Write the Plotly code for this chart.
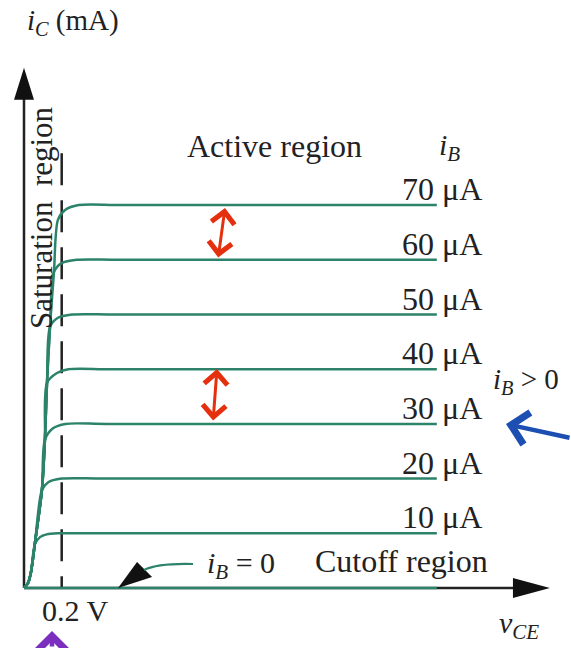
import plotly.graph_objects as go

# ---------------- data ----------------
ib_labels = ["0", "10 μA", "20 μA", "30 μA", "40 μA", "50 μA", "60 μA", "70 μA"]
ic_levels = [0, 1, 2, 3, 4, 5, 6, 7]          # mA, flat level of each curve

vce_0 = [0.0, 2.19]
ic_0 = [0.0, 0.0]
vce_10 = [0, 0.021, 0.037, 0.058, 0.085, 0.12, 0.18, 0.40, 2.19]
ic_10 = [0, 0.09, 0.29, 0.80, 0.93, 0.98, 1.0, 1.0, 1.0]
vce_20 = [0, 0.021, 0.037, 0.058, 0.095, 0.127, 0.20, 0.42, 2.19]
ic_20 = [0, 0.09, 0.29, 0.82, 1.79, 1.93, 2.0, 2.0, 2.0]
vce_30 = [0, 0.021, 0.037, 0.058, 0.095, 0.111, 0.154, 0.22, 0.44, 2.19]
ic_30 = [0, 0.09, 0.29, 0.82, 1.79, 2.71, 2.92, 3.0, 3.0, 3.0]
vce_40 = [0, 0.021, 0.037, 0.058, 0.095, 0.111, 0.122, 0.175, 0.235, 0.46, 2.19]
ic_40 = [0, 0.09, 0.29, 0.82, 1.79, 2.71, 3.75, 3.93, 4.0, 4.0, 4.0]
vce_50 = [0, 0.021, 0.037, 0.058, 0.095, 0.111, 0.122, 0.138, 0.18, 0.255, 0.48, 2.19]
ic_50 = [0, 0.09, 0.29, 0.82, 1.79, 2.71, 3.75, 4.77, 4.94, 5.0, 5.0, 5.0]
vce_60 = [0, 0.021, 0.037, 0.058, 0.095, 0.111, 0.122, 0.138, 0.159, 0.20, 0.28, 0.50, 2.19]
ic_60 = [0, 0.09, 0.29, 0.82, 1.79, 2.71, 3.75, 4.77, 5.78, 5.94, 6.0, 6.0, 6.0]
vce_70 = [0, 0.021, 0.037, 0.058, 0.095, 0.111, 0.122, 0.138, 0.159, 0.18, 0.218, 0.29, 0.52, 2.19]
ic_70 = [0, 0.09, 0.29, 0.82, 1.79, 2.71, 3.75, 4.77, 5.78, 6.73, 6.91, 7.0, 7.0, 7.0]

vce_sat = 0.2          # V, dashed saturation boundary
vce_axis_end = 2.79
ic_axis_end = 9.51
ic_dash_top = 7.95
vce_ib0_arrow = 0.499

# ---------------- styling ----------------
W, H = 571, 648
GREEN = "#2c836a"
INK = "#222222"
FONT = "Liberation Serif"
FS = 32

curves = [(vce_0, ic_0), (vce_10, ic_10), (vce_20, ic_20), (vce_30, ic_30),
          (vce_40, ic_40), (vce_50, ic_50), (vce_60, ic_60), (vce_70, ic_70)]

fig = go.Figure()

# axes lines (drawn below curves)
fig.add_shape(type="line", x0=0, y0=0, x1=vce_axis_end - 0.15, y1=0,
              line=dict(color=INK, width=2.5), layer="below")
fig.add_shape(type="line", x0=0, y0=0, x1=0, y1=ic_axis_end - 0.5,
              line=dict(color=INK, width=2.5), layer="below")
fig.add_shape(type="line", x0=vce_sat, y0=ic_dash_top, x1=vce_sat, y1=0,
              line=dict(color=INK, width=2.5, dash="32px,15px"), layer="below")

for (v, i) in curves:
    fig.add_trace(go.Scatter(x=v, y=i, mode="lines",
                             line=dict(color=GREEN, width=2.5, shape="spline", smoothing=0.8),
                             hoverinfo="skip", showlegend=False))

# arrowheads on axes (pixel-sized paths anchored at the tips)
fig.add_shape(type="path", xref="x", yref="y", xsizemode="pixel", ysizemode="pixel",
              xanchor=vce_axis_end, yanchor=0, path="M0,0 L-37,10 L-37,-10 Z",
              fillcolor="#111", line=dict(width=0))
fig.add_shape(type="path", xref="x", yref="y", xsizemode="pixel", ysizemode="pixel",
              xanchor=0, yanchor=ic_axis_end, path="M0,0 L-10,-32 L10,-32 Z",
              fillcolor="#111", line=dict(width=0))
# i_B = 0 pointer
fig.add_shape(type="path", xref="x", yref="y", xsizemode="pixel", ysizemode="pixel",
              xanchor=vce_ib0_arrow, yanchor=0, path="M0,0 L19,26 L34,11 Z",
              fillcolor="#111", line=dict(width=0))
fig.add_shape(type="path", xref="x", yref="y", xsizemode="pixel", ysizemode="pixel",
              xanchor=vce_ib0_arrow, yanchor=0, path="M26,18 Q40,25 75,24",
              line=dict(color=GREEN, width=2.2))

def px(x):
    return x / W

def py(y):
    return 1 - y / H

ann = []
def text(t, x, y, xa="center", size=FS, angle=0):
    ann.append(dict(text=t, x=px(x), y=py(y), xref="paper", yref="paper",
                    xanchor=xa, yanchor="middle", showarrow=False, textangle=angle,
                    font=dict(family=FONT, size=size, color=INK)))

text("<i>i</i><sub><i>C</i></sub> (mA)", 25, 22, xa="left", size=29)
text("Active region", 185, 146, xa="left")
text("<i>i</i><sub><i>B</i></sub>", 437, 147, xa="left", size=30)
text("<i>i</i><sub><i>B</i></sub> > 0", 491, 381, xa="left", size=29)
text("Cutoff region", 313, 561, xa="left")
text("<i>i</i><sub><i>B</i></sub> = 0", 205, 565, xa="left", size=30)
text("0.2 V", 40, 610, xa="left", size=30)
text("<i>v</i><sub><i>CE</i></sub>", 497, 625, xa="left", size=30)
text("Saturation  region", 42, 218, angle=-90, size=31)

# current labels attached to the curve levels
for lab, lev in zip(ib_labels[1:], ic_levels[1:]):
    ann.append(dict(text=lab, x=2.44, y=lev, xref="x", yref="y", xanchor="right",
                    yanchor="middle", yshift=16, showarrow=False,
                    font=dict(family=FONT, size=FS, color=INK)))

# hand-drawn marks
def hand_arrow(x, y, ax, ay, color, width, both=False, size=1.4):
    ann.append(dict(text="", x=px(x), y=py(y), xref="paper", yref="paper",
                    ax=ax, ay=ay, showarrow=True, arrowhead=4, startarrowhead=4,
                    arrowside="end+start" if both else "end", arrowsize=size,
                    startarrowsize=size, arrowwidth=width, arrowcolor=color,
                    standoff=0, startstandoff=0))

hand_arrow(225, 208, -7, 51, "#e5300f", 3.0, both=True, size=1.5)
hand_arrow(217, 369, -4, 53, "#e5300f", 3.0, both=True, size=1.5)
hand_arrow(506, 424, 70, 14, "#1d4fb3", 4.5, size=1.4)
hand_arrow(52, 631, 0, 25, "#7a2fbf", 4.5, size=1.4)

fig.update_layout(
    width=W, height=H, margin=dict(l=0, r=0, t=0, b=0),
    paper_bgcolor="white", plot_bgcolor="white",
    xaxis=dict(range=[-24 / 188.5, (W - 24) / 188.5], visible=False, fixedrange=True),
    yaxis=dict(range=[-(H - 588) / 54.7, 588 / 54.7], visible=False, fixedrange=True),
    annotations=ann, showlegend=False,
)

fig.write_html("out.html", config={"displayModeBar": False},
               post_script="document.body.style.margin='0';document.body.style.overflow='hidden';")
